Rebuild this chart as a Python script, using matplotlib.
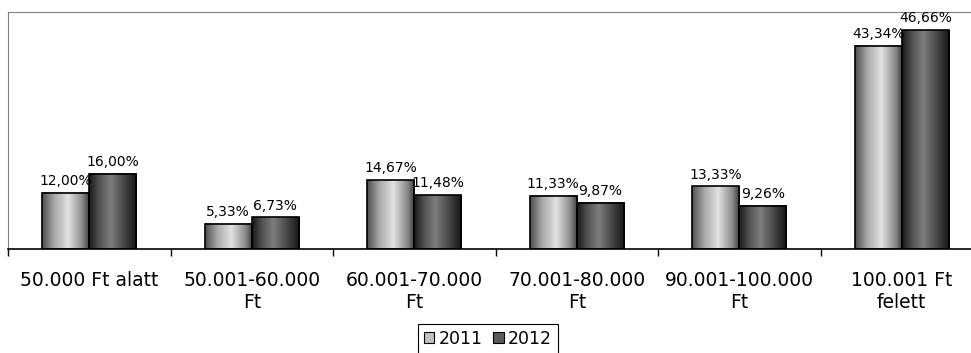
import numpy as np
import matplotlib.pyplot as plt
from matplotlib.patches import Patch
from matplotlib.colors import LinearSegmentedColormap

plt.rcParams['font.family'] = ['DejaVu Sans']

kategoriak = ["50.000 Ft alatt", "50.001-60.000\nFt", "60.001-70.000\nFt",
              "70.001-80.000\nFt", "90.001-100.000\nFt", "100.001 Ft\nfelett"]
ev_2011 = [12.00, 5.33, 14.67, 11.33, 13.33, 43.34]
ev_2012 = [16.00, 6.73, 11.48, 9.87, 9.26, 46.66]
evek = ["2011", "2012"]

# hengeres hatas (vizszintes szinatmenet)
cm_vilagos = LinearSegmentedColormap.from_list(
    "vilagos", [(0, "#505050"), (0.25, "#a8a8a8"), (0.55, "#e2e2e2"),
                (0.85, "#8a8a8a"), (1, "#3a3a3a")])
cm_sotet = LinearSegmentedColormap.from_list(
    "sotet", [(0, "#1a1a1a"), (0.2, "#505050"), (0.45, "#7e7e7e"),
              (0.8, "#3a3a3a"), (1, "#151515")])
grad = np.linspace(0, 1, 64).reshape(1, -1)

fig = plt.figure(figsize=(9.71, 3.53), dpi=100)
ax = fig.add_axes([8/971, 104/353, 975/971, 237/353])

x = np.arange(len(kategoriak))
w = 0.29
for ertekek, eltolas, cm in ((ev_2011, -w/2, cm_vilagos), (ev_2012, w/2, cm_sotet)):
    for xi, v in zip(x, ertekek):
        x0 = xi + eltolas - w/2
        ax.imshow(grad, cmap=cm, extent=(x0, x0 + w, 0, v), aspect='auto',
                  interpolation='bilinear', zorder=2)
        ax.add_patch(plt.Rectangle((x0, 0), w, v, fill=False,
                                   edgecolor='black', lw=1.2, zorder=3))
        ax.text(xi + eltolas, v + 1.0, "{:.2f}%".format(v).replace('.', ','),
                ha='center', va='bottom', fontsize=10, zorder=4)

ax.set_xlim(-0.5, len(kategoriak) - 0.5)
ax.set_ylim(0, 50.5)
ax.set_yticks([])
ax.set_xticks(x)
ax.set_xticklabels(kategoriak, fontsize=13.5, linespacing=1.2)
ax.tick_params(axis='x', which='major', length=0, pad=16)
ax.set_xticks(np.arange(-0.5, len(kategoriak)), minor=True)
ax.tick_params(axis='x', which='minor', length=5, width=1, color='black')

ax.spines['right'].set_visible(False)
ax.spines['top'].set_color('#808080')
ax.spines['left'].set_color('#808080')
ax.spines['bottom'].set_color('black')
ax.spines['bottom'].set_linewidth(1.2)

fogantyuk = [Patch(facecolor='#c0c0c0', edgecolor='black', lw=0.8),
             Patch(facecolor='#5a5a5a', edgecolor='black', lw=0.8)]
leg = fig.legend(fogantyuk, evek, loc='upper center', ncol=2,
                 bbox_to_anchor=(488/971, 29/353), fontsize=12.5,
                 handlelength=0.6, handleheight=0.6, handletextpad=0.25,
                 columnspacing=0.6, borderpad=0.35, borderaxespad=0,
                 fancybox=False, framealpha=1, edgecolor='black')
leg.get_frame().set_linewidth(0.8)

plt.savefig('out.png', dpi=100)
